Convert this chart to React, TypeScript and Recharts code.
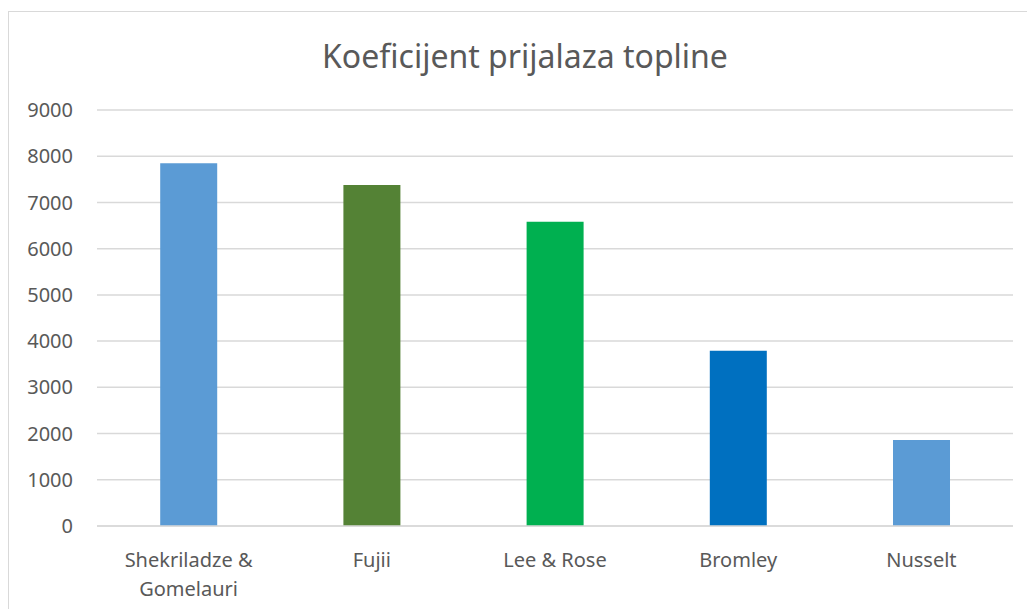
import { BarChart, Bar, XAxis, YAxis, CartesianGrid, Cell } from 'recharts'

const categories = ['Shekriladze & Gomelauri', 'Fujii', 'Lee & Rose', 'Bromley', 'Nusselt']
const values = [7850, 7380, 6580, 3790, 1860]
const barColors = ['#5B9BD5', '#548235', '#00B050', '#0070C0', '#5B9BD5']
const yTicks = [0, 1000, 2000, 3000, 4000, 5000, 6000, 7000, 8000, 9000]
// how the long category labels break into lines
const labelLines: Record<string, string[]> = {
  'Shekriladze & Gomelauri': ['Shekriladze &', 'Gomelauri'],
}

const data = categories.map((name, i) => ({ name, value: values[i] }))

const FONT = '"Noto Sans", "Open Sans", sans-serif'
const GRAY = '#595959'

function CategoryTick(props: any) {
  const { x, y, payload } = props
  const lines = labelLines[payload.value] ?? [payload.value]
  return (
    <text x={x} textAnchor="middle" fill={GRAY} fontSize={20} fontFamily={FONT}>
      {lines.map((line, i) => (
        <tspan key={i} x={x} y={y + 41 + i * 29}>
          {line}
        </tspan>
      ))}
    </text>
  )
}

export default function App() {
  return (
    <div style={{ position: 'absolute', left: 0, top: 0, width: 1027, height: 609, background: '#fff', overflow: 'hidden' }}>
      <div
        style={{
          position: 'absolute',
          left: 8,
          top: 11,
          width: 1040,
          height: 620,
          border: '1.5px solid #d9d9d9',
          boxSizing: 'border-box',
        }}
      />
      <div
        style={{
          position: 'absolute',
          left: 0,
          width: 1050,
          top: 34,
          textAlign: 'center',
          fontFamily: FONT,
          fontSize: 32,
          color: GRAY,
          lineHeight: '44px',
        }}
      >
        Koeficijent prijalaza topline
      </div>
      <div style={{ position: 'absolute', left: 0, top: 0 }}>
        <BarChart
          width={1027}
          height={609}
          data={data}
          margin={{ top: 110, right: 14, bottom: 23, left: 0 }}
          barCategoryGap="34.5%"
        >
          <CartesianGrid vertical={false} stroke="#d9d9d9" strokeWidth={1.5} />
          <XAxis
            dataKey="name"
            axisLine={{ stroke: '#d9d9d9', strokeWidth: 1.5 }}
            tickLine={false}
            tickSize={0}
            tickMargin={0}
            height={60}
            interval={0}
            tick={<CategoryTick />}
          />
          <YAxis
            width={97}
            domain={[0, 9000]}
            ticks={yTicks}
            axisLine={false}
            tickLine={false}
            tickSize={0}
            tickMargin={24}
            tick={{ fill: GRAY, fontSize: 20, fontFamily: FONT }}
          />
          <Bar dataKey="value" isAnimationActive={false}>
            {data.map((_, i) => (
              <Cell key={i} fill={barColors[i]} />
            ))}
          </Bar>
        </BarChart>
      </div>
    </div>
  )
}
